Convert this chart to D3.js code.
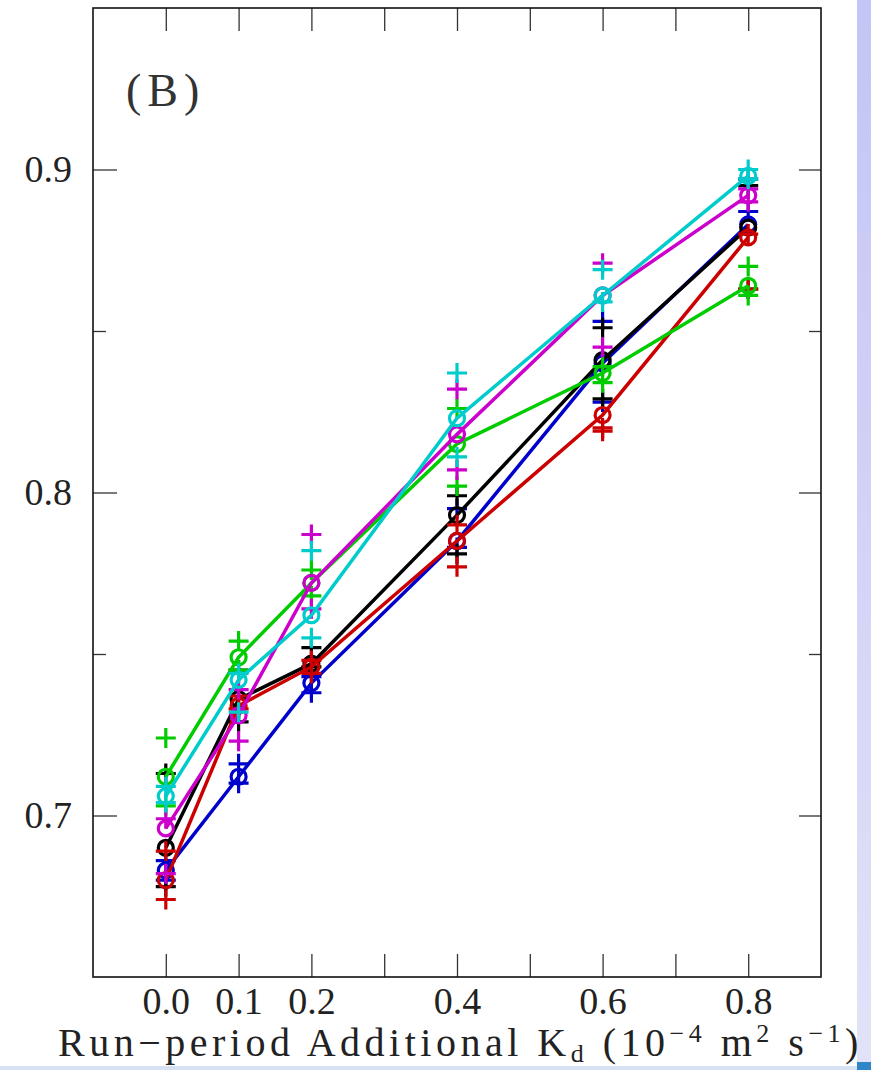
<!DOCTYPE html>
<html>
<head>
<meta charset="utf-8">
<script src="https://cdn.jsdelivr.net/npm/d3@7"></script>
<style>
  body { margin: 0; background: #fff; }
  svg { display: block; }
  .tick text { font-family: "Liberation Serif", "DejaVu Serif", serif; fill: #222; }
</style>
</head>
<body>
<div id="chart"></div>
<script>
// x categories (additional Kd) and axis ticks
const kdValues = [0.0, 0.1, 0.2, 0.4, 0.6, 0.8];
const xTickValues = [0.0, 0.1, 0.2, 0.3, 0.4, 0.5, 0.6, 0.7, 0.8];
const xTickLabels = ["0.0", "0.1", "0.2", "", "0.4", "", "0.6", "", "0.8"];
const yMajorTicks = [0.7, 0.8, 0.9];
const yMajorLabels = ["0.7", "0.8", "0.9"];
const yMinorTicks = [0.75, 0.85];

// ensemble means (circles) per series
const meanBlack   = [0.690, 0.736, 0.747, 0.793, 0.841, 0.882];
const meanBlue    = [0.683, 0.712, 0.741, 0.785, 0.840, 0.883];
const meanRed     = [0.680, 0.734, 0.746, 0.785, 0.824, 0.879];
const meanGreen   = [0.712, 0.749, 0.772, 0.815, 0.837, 0.864];
const meanMagenta = [0.696, 0.731, 0.772, 0.818, 0.861, 0.892];
const meanCyan    = [0.706, 0.742, 0.762, 0.823, 0.861, 0.898];

// individual members (plus signs), two per Kd value
const runsBlack   = [[0.713, 0.678], [0.745, 0.729], [0.752, 0.746], [0.799, 0.781], [0.851, 0.829], [0.895, 0.863]];
const runsBlue    = [[0.686, 0.680], [0.716, 0.710], [0.743, 0.738], [0.795, 0.783], [0.853, 0.828], [0.897, 0.887]];
const runsRed     = [[0.689, 0.674], [0.737, 0.733], [0.748, 0.744], [0.790, 0.777], [0.820, 0.819], [0.880, 0.863]];
const runsGreen   = [[0.724, 0.703], [0.754, 0.745], [0.776, 0.768], [0.826, 0.802], [0.839, 0.834], [0.870, 0.861]];
const runsMagenta = [[0.699, 0.682], [0.739, 0.723], [0.787, 0.764], [0.832, 0.807], [0.871, 0.845], [0.894, 0.890]];
const runsCyan    = [[0.709, 0.704], [0.744, 0.732], [0.782, 0.755], [0.837, 0.811], [0.869, 0.859], [0.900, 0.897]];

const seriesColors = ["#0000cc", "#000000", "#cc0000", "#00cc00", "#cc00cc", "#00cccc"];

// drawing order: blue under black, cyan on top
let series = [
  { mean: meanBlue, runs: runsBlue },
  { mean: meanBlack, runs: runsBlack },
  { mean: meanRed, runs: runsRed },
  { mean: meanGreen, runs: runsGreen },
  { mean: meanMagenta, runs: runsMagenta },
  { mean: meanCyan, runs: runsCyan }
];
series.forEach((s, i) => s.color = seriesColors[i]);

// page size
let width = 871;
let height = 1070;

// plot frame
let frame = { left: 93, right: 821, top: 8, bottom: 977 };

let svg = d3.select("#chart")
  .append("svg")
  .attr("width", width)
  .attr("height", height);

// side strip of the slide background
let defs = svg.append("defs");
let grad = defs.append("linearGradient")
  .attr("id", "strip")
  .attr("x1", 0).attr("y1", 0).attr("x2", 0).attr("y2", 1);
grad.append("stop").attr("offset", "0%").attr("stop-color", "#c4c4f6");
grad.append("stop").attr("offset", "100%").attr("stop-color", "#e2e2f8");

svg.append("rect")
  .attr("x", 857).attr("y", 0)
  .attr("width", 14).attr("height", height)
  .attr("fill", "url(#strip)");
svg.append("rect")
  .attr("x", 0).attr("y", 1066)
  .attr("width", width).attr("height", 4)
  .attr("fill", "#d6e2f4");
svg.append("rect")
  .attr("x", 857).attr("y", 1062)
  .attr("width", 14).attr("height", 8)
  .attr("fill", "#2f86c6");

// scales
let fnX = d3.scaleLinear().domain([-0.1, 0.9]).range([frame.left, frame.right]);
let fnY = d3.scaleLinear().domain([0.65, 0.95]).range([frame.bottom, frame.top]);

// axes
let fnXBottom = d3.axisBottom(fnX)
  .tickValues(xTickValues)
  .tickSize(-23)
  .tickPadding(10)
  .tickFormat((d, i) => xTickLabels[i]);
let fnXTop = d3.axisTop(fnX)
  .tickValues(xTickValues)
  .tickSize(-23)
  .tickFormat("");
let fnYLeft = d3.axisLeft(fnY)
  .tickValues(yMajorTicks)
  .tickSize(-24)
  .tickPadding(21)
  .tickFormat((d, i) => yMajorLabels[i]);
let fnYLeftMinor = d3.axisLeft(fnY).tickValues(yMinorTicks).tickSize(-13).tickFormat("");
let fnYRight = d3.axisRight(fnY).tickValues(yMajorTicks).tickSize(-22).tickFormat("");
let fnYRightMinor = d3.axisRight(fnY).tickValues(yMinorTicks).tickSize(-12).tickFormat("");

function addAxis(fn, tx, ty) {
  let g = svg.append("g")
    .attr("transform", `translate(${tx}, ${ty})`)
    .call(fn);
  g.select(".domain").remove();
  g.selectAll(".tick line").attr("stroke", "#333").attr("stroke-width", 1.3);
  g.selectAll(".tick text").attr("font-size", 38);
  return g;
}
addAxis(fnXBottom, 0, frame.bottom);
addAxis(fnXTop, 0, frame.top);
addAxis(fnYLeft, frame.left, 0);
addAxis(fnYLeftMinor, frame.left, 0);
addAxis(fnYRight, frame.right, 0);
addAxis(fnYRightMinor, frame.right, 0);

// frame
svg.append("rect")
  .attr("x", frame.left).attr("y", frame.top)
  .attr("width", frame.right - frame.left)
  .attr("height", frame.bottom - frame.top)
  .attr("fill", "none")
  .attr("stroke", "#111")
  .attr("stroke-width", 1.6);

// panel letter
svg.append("text")
  .attr("x", 126).attr("y", 106)
  .attr("font-family", "Liberation Serif, DejaVu Serif, serif")
  .attr("font-size", 46)
  .attr("letter-spacing", 6)
  .attr("fill", "#333")
  .text("(B)");

// series
let g = svg.append("g");
let fnLine = d3.line()
  .x((d, i) => fnX(kdValues[i]))
  .y(d => fnY(d));

series.forEach(s => {
  let sg = g.append("g");
  sg.append("path")
    .datum(s.mean)
    .attr("d", fnLine)
    .attr("fill", "none")
    .attr("stroke", s.color)
    .attr("stroke-width", 3.5);

  let runPts = [];
  s.runs.forEach((arr, i) => arr.forEach(v => runPts.push({ x: kdValues[i], y: v })));
  sg.selectAll(".run")
    .data(runPts)
    .enter()
    .append("path")
    .attr("class", "run")
    .attr("transform", d => `translate(${fnX(d.x)}, ${fnY(d.y)})`)
    .attr("d", "M-10,0H10M0,-10V10")
    .attr("stroke", s.color)
    .attr("stroke-width", 3.2)
    .attr("fill", "none");

  sg.selectAll(".mean")
    .data(s.mean)
    .enter()
    .append("circle")
    .attr("class", "mean")
    .attr("cx", (d, i) => fnX(kdValues[i]))
    .attr("cy", d => fnY(d))
    .attr("r", 7.5)
    .attr("fill", "none")
    .attr("stroke", s.color)
    .attr("stroke-width", 3.2);
});

// x axis title
let title = svg.append("text")
  .attr("x", 58).attr("y", 1056)
  .attr("font-family", "Liberation Serif, DejaVu Serif, serif")
  .attr("font-size", 40)
  .attr("letter-spacing", 4.5)
  .attr("fill", "#222");
title.append("tspan").text("Run\u2212period Additional K");
title.append("tspan").attr("font-size", 26).attr("dy", 6).text("d");
title.append("tspan").attr("dy", -6).text(" (10");
title.append("tspan").attr("font-size", 26).attr("dy", -14).text("\u22124");
title.append("tspan").attr("dy", 14).text(" m");
title.append("tspan").attr("font-size", 26).attr("dy", -14).text("2");
title.append("tspan").attr("dy", 14).text(" s");
title.append("tspan").attr("font-size", 26).attr("dy", -14).text("\u22121");
title.append("tspan").attr("dy", 14).text(")");
</script>
</body>
</html>
